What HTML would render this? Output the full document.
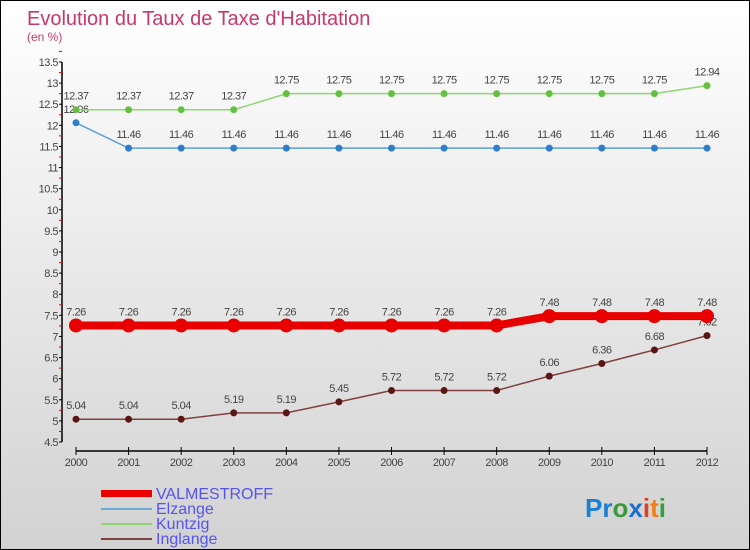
<!DOCTYPE html>
<html><head><meta charset="utf-8"><style>
body{margin:0}
#c{width:750px;height:550px;position:relative;box-sizing:border-box;border:1px solid #000;background:linear-gradient(#fff,#d2d2d2);font-family:"Liberation Sans",sans-serif;overflow:hidden}
</style></head><body>
<div id="c">
<svg id="s" width="748" height="548" xmlns="http://www.w3.org/2000/svg" style="position:absolute;left:0;top:0">
<text x="26" y="24" font-size="20" fill="#c8386a">Evolution du Taux de Taxe d'Habitation</text>
<text x="26" y="40" font-size="12" fill="#c8386a">(en %)</text>
<g id="ax"></g><g id="ser"></g>
<g font-size="16" fill="#5555ee">
<rect x="100" y="489" width="51" height="7" fill="#e00"/>
<text x="155" y="498">VALMESTROFF</text>
<rect x="100" y="507" width="51" height="2" fill="#6fa8d0"/>
<text x="155" y="513">Elzange</text>
<rect x="100" y="522" width="51" height="2" fill="#8fd870"/>
<text x="155" y="528">Kuntzig</text>
<rect x="100" y="537" width="51" height="2" fill="#7a4040"/>
<text x="155" y="543">Inglange</text>
</g>
<g font-size="26" font-weight="bold">
<text x="584" y="516"><tspan fill="#1a7fd0">Pr</tspan><tspan fill="#3a9a3a">o</tspan><tspan fill="#1a6fd0">x</tspan><tspan fill="#e04020">i</tspan><tspan fill="#f08010">t</tspan><tspan fill="#30a040">i</tspan></text>
</g>
</svg>
</div>
<script>
const years=[2000,2001,2002,2003,2004,2005,2006,2007,2008,2009,2010,2011,2012];
const valmestroff=[7.26,7.26,7.26,7.26,7.26,7.26,7.26,7.26,7.26,7.48,7.48,7.48,7.48];
const elzange=[12.06,11.46,11.46,11.46,11.46,11.46,11.46,11.46,11.46,11.46,11.46,11.46,11.46];
const kuntzig=[12.37,12.37,12.37,12.37,12.75,12.75,12.75,12.75,12.75,12.75,12.75,12.75,12.94];
const inglange=[5.04,5.04,5.04,5.19,5.19,5.45,5.72,5.72,5.72,6.06,6.36,6.68,7.02];
const yTicks=[4.5,5,5.5,6,6.5,7,7.5,8,8.5,9,9.5,10,10.5,11,11.5,12,12.5,13,13.5];
const NS="http://www.w3.org/2000/svg";
const X=i=>75+i*(706-75)/(years.length-1);
const Y=v=>441-(v-4.5)*(441-61)/9;
function mk(t,a,p){const e=document.createElementNS(NS,t);for(const k in a)e.setAttribute(k,a[k]);p.appendChild(e);return e;}
const ax=document.getElementById('ax'),ser=document.getElementById('ser');
let l=mk('line',{x1:61,y1:61,x2:61,y2:441,stroke:'#000','stroke-width':1.5},ax);


yTicks.forEach(v=>{
 mk('line',{x1:58,x2:61,y1:Y(v),y2:Y(v),stroke:'#000'},ax);
 mk('line',{x1:58,x2:61,y1:Y(v+0.25),y2:Y(v+0.25),stroke:'#e00'},ax);
 const t=mk('text',{x:57,y:Y(v)+4,'text-anchor':'end','font-size':11,fill:'#444','letter-spacing':'-0.5'},ax);
 t.textContent=v;
 
 
});
l=mk('line',{x1:75,y1:450,x2:706,y2:450,stroke:'#000','stroke-width':1.5},ax);


years.forEach((y,i)=>{
 mk('line',{x1:X(i),x2:X(i),y1:446,y2:454,stroke:'#000'},ax);
 const t=mk('text',{x:X(i),y:465,'text-anchor':'middle','font-size':11,fill:'#444','letter-spacing':'-0.5'},ax);
 t.textContent=y;
 
 
});
function series(name,data,col,w,r,dot){
 const g=mk('g',{},ser);
 
 
 mk('polyline',{points:data.map((v,i)=>X(i)+','+Y(v)).join(' '),fill:'none',stroke:col,'stroke-width':w},g);
 data.forEach((v,i)=>{
  const c=mk('circle',{cx:X(i),cy:Y(v),r:r,fill:dot},g);
  
  
  const t=mk('text',{x:X(i),y:Y(v)-10,'text-anchor':'middle','font-size':11,fill:'#444','letter-spacing':'-0.5'},g);
  t.textContent=v;
  
  
 });
}
series('elzange',elzange,'#5aa0d8',1.5,3.5,'#2f7fc8');
series('kuntzig',kuntzig,'#8fd870',1.5,3.5,'#66c040');
series('inglange',inglange,'#804040',1.5,3.5,'#5a1515');
series('valmestroff',valmestroff,'#e80000',8,7,'#e80000');
</script>
</body></html>
